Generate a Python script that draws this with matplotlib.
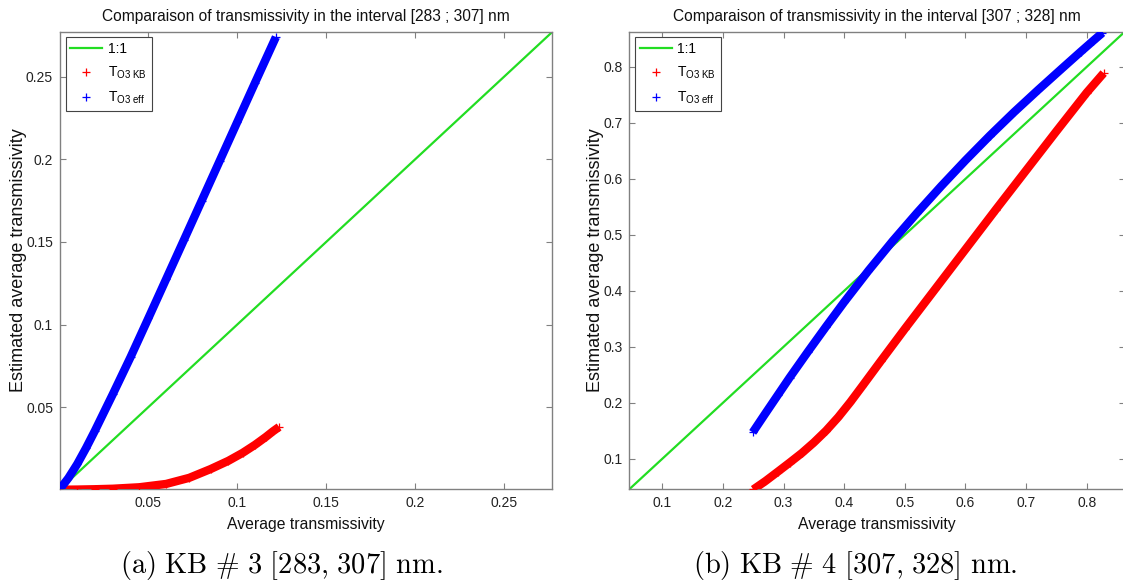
import matplotlib
matplotlib.use("Agg")
import matplotlib.pyplot as plt
from matplotlib import ticker

plt.rcParams['font.family'] = ['Liberation Sans', 'DejaVu Sans']
plt.rcParams['mathtext.fontset'] = 'cm'

# colours as in the MATLAB figure
GREEN = '#22dd22'
RED = '#ff0000'
BLUE = '#0000ff'
AXCOL = '#808080'

# (a) KB #3 [283 ; 307] nm
kb3_lims = [0.0003, 0.2771]
kb3_ticks = [0.05, 0.1, 0.15, 0.2, 0.25]
kb3_kb_x = [0.0, 0.01, 0.02, 0.03, 0.045, 0.06, 0.073, 0.085, 0.095, 0.103, 0.11, 0.116, 0.12, 0.1235]
kb3_kb_y = [0.0, 0.0001, 0.0003, 0.0006, 0.0015, 0.0035, 0.0072, 0.0125, 0.0175, 0.0223, 0.0272, 0.0319, 0.0353, 0.038]
kb3_eff_x = [0.0, 0.005, 0.01, 0.015, 0.02, 0.03, 0.04, 0.05, 0.06, 0.07, 0.08, 0.09, 0.10, 0.11, 0.1217]
kb3_eff_y = [0.0, 0.007, 0.0155, 0.0253, 0.0358, 0.0578, 0.0803, 0.1038, 0.1275, 0.1512, 0.175, 0.1988, 0.2226, 0.2464, 0.274]

# (b) KB #4 [307 ; 328] nm
kb4_lims = [0.0455, 0.8625]
kb4_ticks = [0.1, 0.2, 0.3, 0.4, 0.5, 0.6, 0.7, 0.8]
kb4_kb_x = [0.25, 0.27, 0.29, 0.31, 0.33, 0.35, 0.37, 0.39, 0.41, 0.43, 0.46, 0.50, 0.55, 0.60, 0.65, 0.70, 0.75, 0.80, 0.828]
kb4_kb_y = [0.045, 0.060, 0.0764, 0.093, 0.110, 0.129, 0.150, 0.174, 0.201, 0.230, 0.274, 0.332, 0.403, 0.474, 0.545, 0.615, 0.685, 0.754, 0.789]
kb4_eff_x = [0.249, 0.27, 0.29, 0.31, 0.34, 0.37, 0.40, 0.44, 0.48, 0.52, 0.56, 0.60, 0.64, 0.68, 0.72, 0.76, 0.79, 0.81, 0.826]
kb4_eff_y = [0.147, 0.181, 0.213, 0.245, 0.291, 0.336, 0.380, 0.436, 0.489, 0.539, 0.587, 0.633, 0.677, 0.719, 0.759, 0.798, 0.827, 0.846, 0.861]

captions = [r'$\mathrm{(a)\ KB\ \#\ 3\ [283{,}\ 307]\ nm.}$',
            r'$\mathrm{(b)\ KB\ \#\ 4\ [307{,}\ 328]\ nm.}$']


def draw_panel(ax, lims, ticks, kb_x, kb_y, eff_x, eff_y, title, ylab_x):
    ax.plot(lims, lims, color=GREEN, lw=1.6, label='1:1', zorder=2)
    # dense cloud of '+' markers -> thick band plus the markers themselves
    ax.plot(kb_x, kb_y, color=RED, lw=6, solid_capstyle='butt', solid_joinstyle='round', zorder=3)
    ax.plot(kb_x, kb_y, ls='none', marker='+', ms=6, mew=0.9, color=RED,
            label=r'$\mathregular{T_{O3\ KB}}$', zorder=3)
    ax.plot(eff_x, eff_y, color=BLUE, lw=6, solid_capstyle='butt', solid_joinstyle='round', zorder=4)
    ax.plot(eff_x, eff_y, ls='none', marker='+', ms=6, mew=0.9, color=BLUE,
            label=r'$\mathregular{T_{O3\ eff}}$', zorder=4)

    ax.set_xlim(lims)
    ax.set_ylim(lims)
    ax.set_xticks(ticks)
    ax.set_yticks(ticks)
    ax.xaxis.set_major_formatter(ticker.FormatStrFormatter('%g'))
    ax.yaxis.set_major_formatter(ticker.FormatStrFormatter('%g'))
    ax.tick_params(direction='in', length=4, width=0.8, top=True, right=True,
                   color=AXCOL, labelcolor='#222222', labelsize=10, pad=5)
    for s in ax.spines.values():
        s.set_color(AXCOL)
        s.set_linewidth(1.0)

    ax.set_title(title, fontsize=11.2, pad=8, color='#111111')
    ax.set_xlabel('Average transmissivity', fontsize=11.3, color='#111111')
    ax.set_ylabel('Estimated average transmissivity', fontsize=13, color='#111111')
    ax.xaxis.set_label_coords(0.5, -0.06)
    ax.yaxis.set_label_coords(ylab_x, 0.5)

    leg = ax.legend(loc='upper left', fontsize=10, fancybox=False, framealpha=1,
                    edgecolor='#444444', borderaxespad=0.4, borderpad=0.35,
                    handlelength=2.3, handletextpad=0.4, labelspacing=0.6,
                    markerscale=0.9)
    leg.get_frame().set_linewidth(0.8)


fig = plt.figure(figsize=(11.23, 5.88), dpi=100)
ax1 = fig.add_axes([0.0534, 0.168, 0.4384, 0.7777])
ax2 = fig.add_axes([0.5604, 0.168, 0.441, 0.7777])

draw_panel(ax1, kb3_lims, kb3_ticks, kb3_kb_x, kb3_kb_y, kb3_eff_x, kb3_eff_y,
           'Comparaison of transmissivity in the interval [283 ; 307] nm', -0.066)
draw_panel(ax2, kb4_lims, kb4_ticks, kb4_kb_x, kb4_kb_y, kb4_eff_x, kb4_eff_y,
           'Comparaison of transmissivity in the interval [307 ; 328] nm', -0.052)

fig.text(281 / 1123, 1 - 565 / 588, captions[0], ha='center', va='center', fontsize=20.5)
fig.text(855 / 1123, 1 - 565 / 588, captions[1], ha='center', va='center', fontsize=20.5)

fig.savefig('out.png', dpi=100)
